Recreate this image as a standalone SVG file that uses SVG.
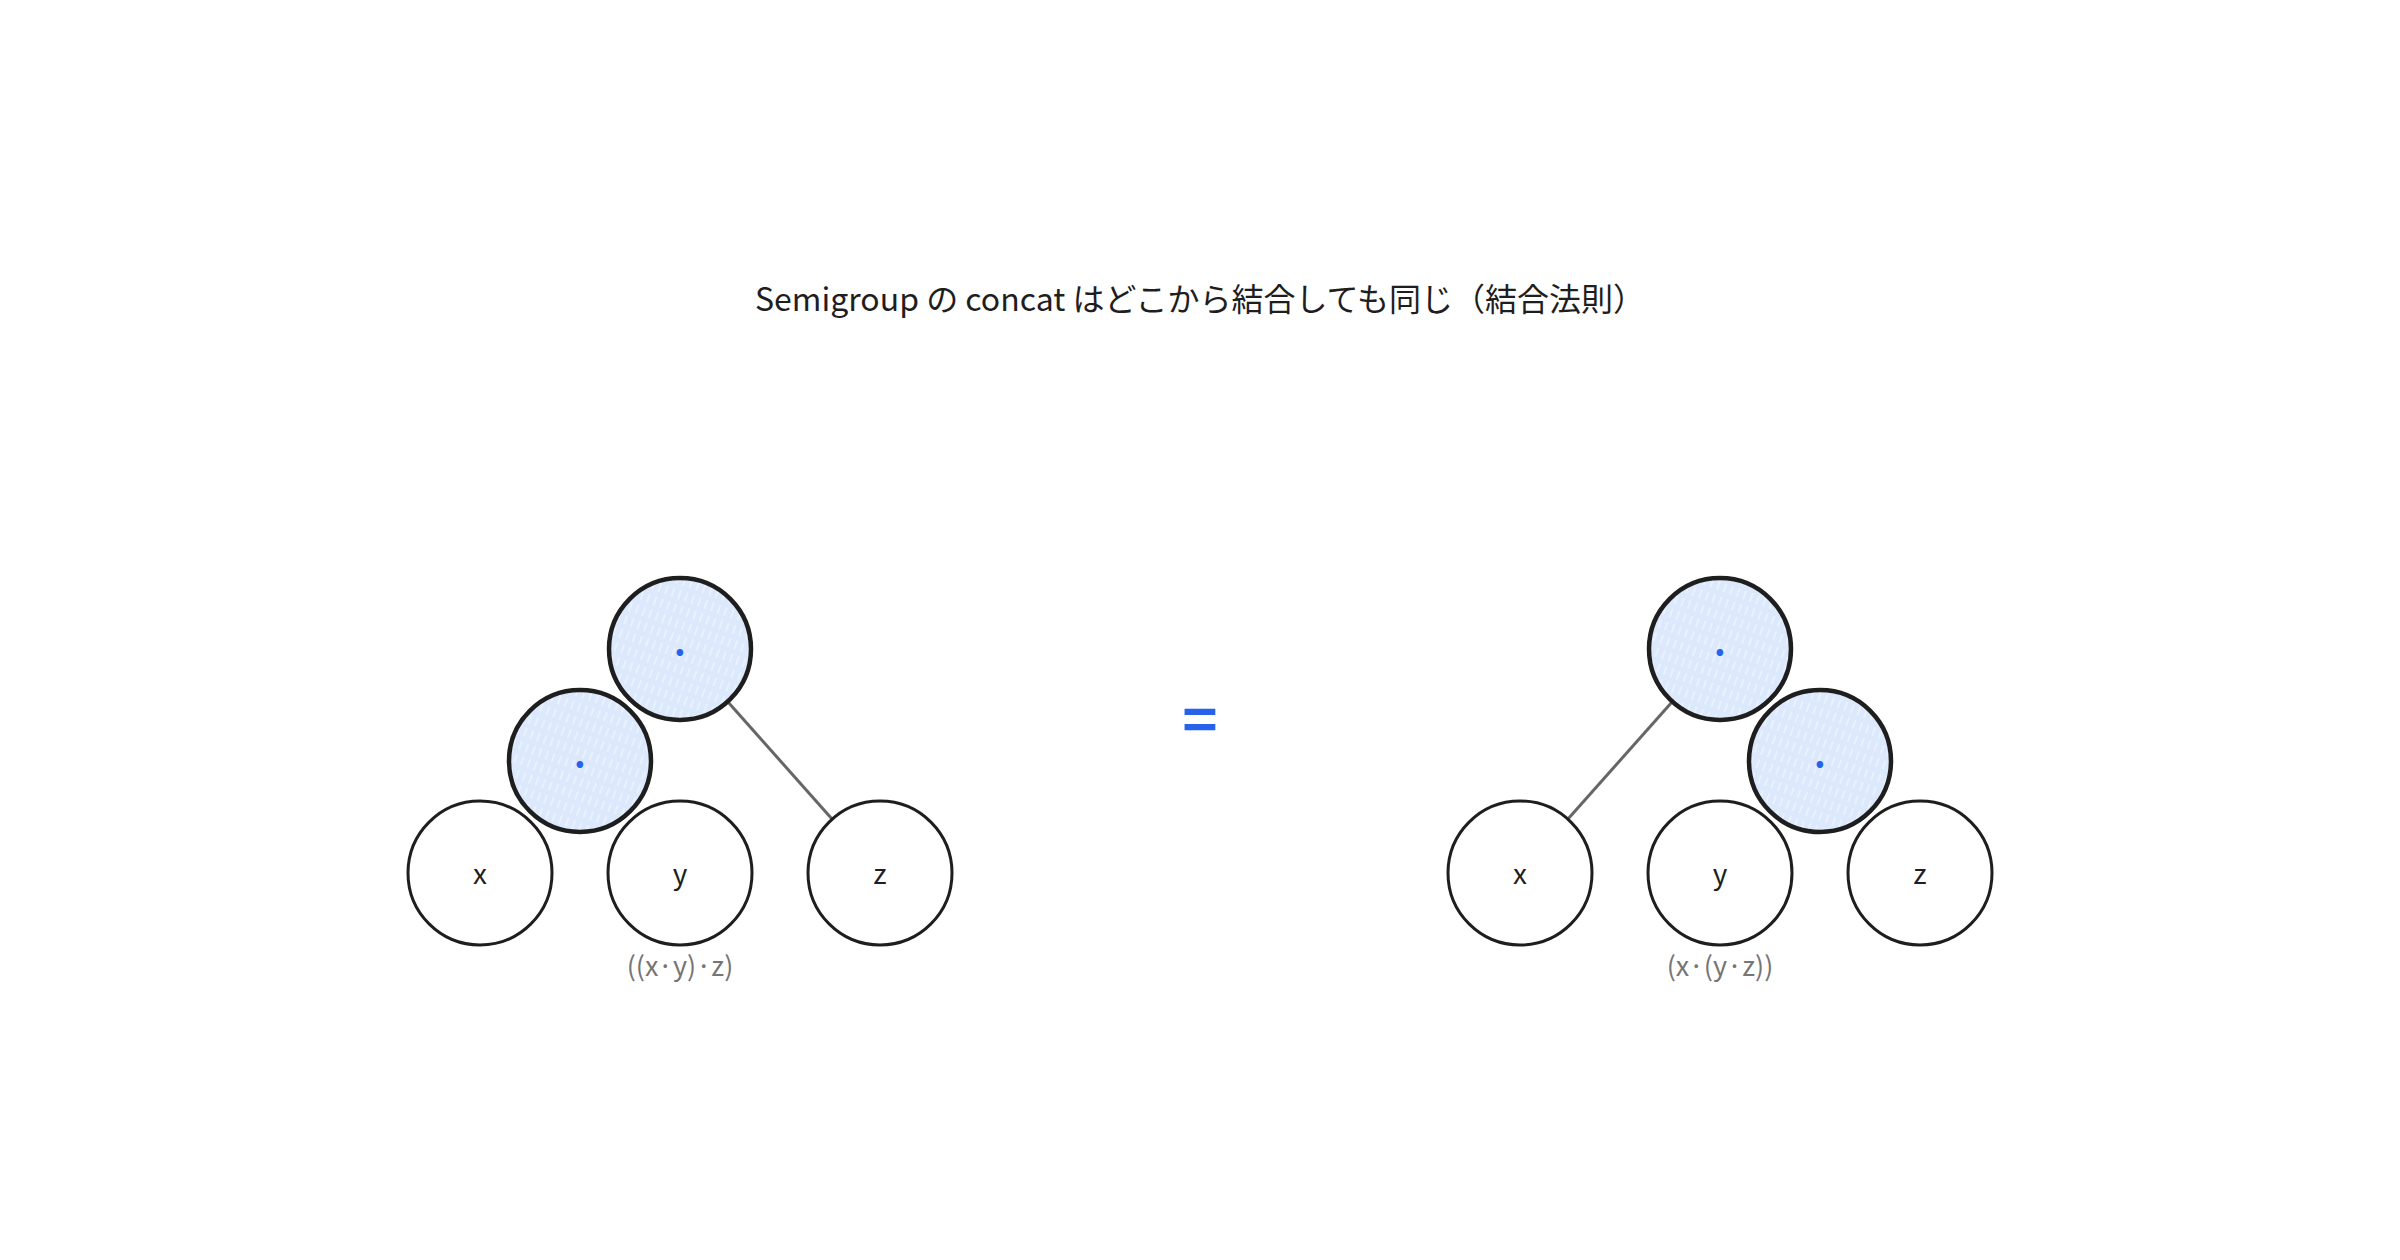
<svg xmlns="http://www.w3.org/2000/svg" width="2400" height="1260" viewBox="0 0 2400 1260">
<style>
text{font-family:"Noto Sans CJK JP","Noto Sans",sans-serif;}
.title{font-size:32px;fill:#1e1e1e;text-anchor:middle;}
.leaf{fill:#ffffff;stroke:#1e1e1e;stroke-width:3;}
.op{fill:url(#hatch);stroke:#1e1e1e;stroke-width:4.5;}
.lbl{font-size:28px;fill:#1e1e1e;text-anchor:middle;dominant-baseline:central;}
.dot{font-size:36px;fill:#2563eb;text-anchor:middle;dominant-baseline:central;font-weight:700;}
.expr{font-size:27px;fill:#757575;text-anchor:middle;}
.eq{font-size:60px;fill:#2563eb;text-anchor:middle;font-weight:600;}
.edge{stroke:#666666;stroke-width:3;fill:none;}
</style>
<defs>
<pattern id="hatch" patternUnits="userSpaceOnUse" width="7" height="14" patternTransform="rotate(20)">
<rect width="7" height="14" fill="#dce9fc"/>
<line x1="2" y1="0" x2="2" y2="9" stroke="#ffffff" stroke-opacity="0.55" stroke-width="1.4"/>
</pattern>
</defs>
<rect width="2400" height="1260" fill="#ffffff"/>
<text class="title" x="1200" y="311">Semigroup の concat はどこから結合しても同じ（結合法則）</text>
<g id="connectors">
<line class="edge" x1="728" y1="702" x2="832" y2="819"/>
<line class="edge" x1="1672" y1="702" x2="1568" y2="819"/>
</g>
<g id="left-x"><circle class="leaf" cx="480" cy="873" r="72"/><text class="lbl" x="480" y="872">x</text></g>
<g id="left-y"><circle class="leaf" cx="680" cy="873" r="72"/><text class="lbl" x="680" y="872">y</text></g>
<g id="left-z"><circle class="leaf" cx="880" cy="873" r="72"/><text class="lbl" x="880" y="872">z</text></g>
<g id="left-op-inner"><circle class="op" cx="580" cy="761" r="71"/><text class="dot" x="580" y="762">·</text></g>
<g id="left-op-root"><circle class="op" cx="680" cy="649" r="71"/><text class="dot" x="680" y="650">·</text></g>
<text id="left-expr" class="expr" x="680" y="976">((x·y)·z)</text>
<g id="equals"><text class="eq" x="1200" y="742">=</text></g>
<g id="right-x"><circle class="leaf" cx="1520" cy="873" r="72"/><text class="lbl" x="1520" y="872">x</text></g>
<g id="right-y"><circle class="leaf" cx="1720" cy="873" r="72"/><text class="lbl" x="1720" y="872">y</text></g>
<g id="right-z"><circle class="leaf" cx="1920" cy="873" r="72"/><text class="lbl" x="1920" y="872">z</text></g>
<g id="right-op-inner"><circle class="op" cx="1820" cy="761" r="71"/><text class="dot" x="1820" y="762">·</text></g>
<g id="right-op-root"><circle class="op" cx="1720" cy="649" r="71"/><text class="dot" x="1720" y="650">·</text></g>
<text id="right-expr" class="expr" x="1720" y="976">(x·(y·z))</text>
</svg>
